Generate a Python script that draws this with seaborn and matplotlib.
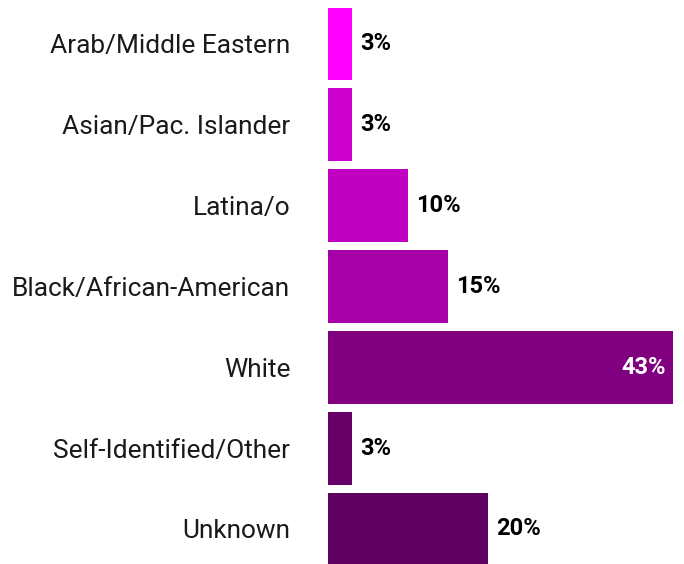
import seaborn as sns
import matplotlib.pyplot as plt

groups = ["Arab/Middle Eastern", "Asian/Pac. Islander", "Latina/o",
          "Black/African-American", "White", "Self-Identified/Other", "Unknown"]
shares = [3, 3, 10, 15, 43, 3, 20]
colors = ["#ff00ff", "#cc00cc", "#c000c0", "#a800a8", "#800080", "#660066", "#5e005e"]

sns.set_style("white")
plt.rcParams["font.family"] = ["Roboto", "DejaVu Sans"]

fig = plt.figure(figsize=(6.84, 5.64), dpi=100)
ax = fig.add_axes([0.4795, 0, 0.508, 1])
sns.barplot(x=shares, y=groups, hue=groups, palette=colors, width=0.9,
            legend=False, ax=ax, saturation=1, linewidth=0)

ax.set_xlim(0, 43.3)
ax.set_ylim(6.433, -0.544)
sns.despine(ax=ax, left=True, bottom=True)
ax.set_xticks([])
ax.tick_params(axis="y", length=0, pad=27, labelsize=20, labelcolor="#1a1a1a")
ax.set_xlabel("")
ax.set_ylabel("")

# fit the longest category label into the space the reference gives it
fig.canvas.draw()
r = fig.canvas.get_renderer()
widest = max(t.get_window_extent(r).width for t in ax.get_yticklabels())
ax.tick_params(axis="y", labelsize=20 * 278 / widest)

for i, v in enumerate(shares):
    if v > 35:
        ax.text(v - 0.9, i, f"{v}%", ha="right", va="center", color="white",
                fontsize=17, fontweight="bold")
    else:
        ax.text(v + 1.0, i, f"{v}%", ha="left", va="center", color="black",
                fontsize=17, fontweight="bold")

fig.savefig("out.png", dpi=100)
